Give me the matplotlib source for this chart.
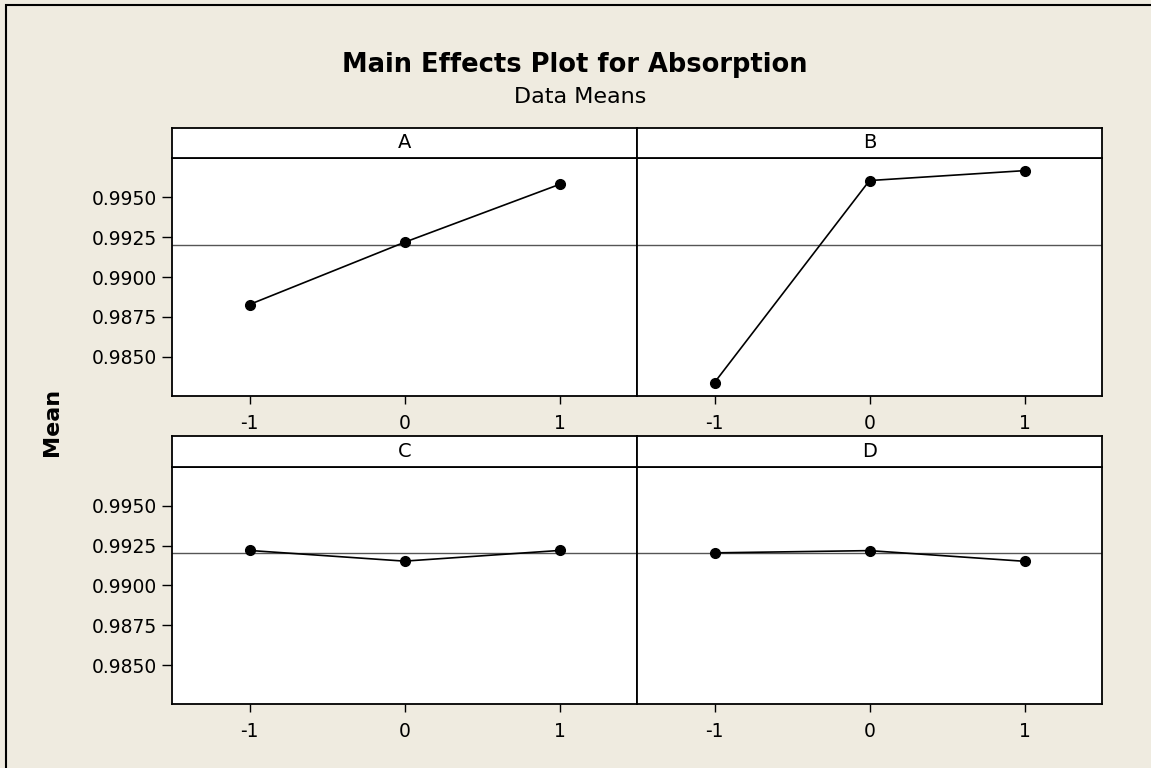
import matplotlib
matplotlib.use('Agg')
import matplotlib.pyplot as plt
from matplotlib.patches import Rectangle

# factor levels and the mean response at each level
levels = [-1, 0, 1]
factors = ['A', 'B', 'C', 'D']
means_a = [0.98828, 0.99217, 0.99579]
means_b = [0.98340, 0.99603, 0.99665]
means_c = [0.99220, 0.99153, 0.99220]
means_d = [0.99205, 0.99219, 0.99152]
grand_mean = 0.99203
yticks = [0.9850, 0.9875, 0.9900, 0.9925, 0.9950]
ytick_labels = ['0.9850', '0.9875', '0.9900', '0.9925', '0.9950']

W, H = 1151, 768
BG = '#EFEBE0'

plt.rcParams['font.family'] = 'DejaVu Sans'

fig = plt.figure(figsize=(W / 100, H / 100), dpi=100, facecolor=BG)


def px_axes(left, top, right, bottom):
	"""axes placed by pixel edges (origin top-left)"""
	return fig.add_axes([left / W, 1 - bottom / H, (right - left) / W, (bottom - top) / H])


def strip(left, top, right, bottom, label):
	ax = px_axes(left, top, right, bottom)
	ax.set_facecolor('white')
	ax.set_xticks([])
	ax.set_yticks([])
	for s in ax.spines.values():
		s.set_linewidth(1.3)
	ax.text(0.5, 0.5, label, ha='center', va='center', fontsize=14, transform=ax.transAxes)
	return ax


def panel(left, top, right, bottom, values, show_y):
	ax = px_axes(left, top, right, bottom)
	ax.set_facecolor('white')
	ax.axhline(grand_mean, color='#555555', linewidth=1.0, zorder=1)
	ax.plot(levels, values, color='black', linewidth=1.2, marker='o', markersize=7, zorder=3)
	ax.set_xlim(-1.5, 1.5)
	ax.set_ylim(0.98256, 0.99744)
	ax.set_xticks(levels)
	ax.set_xticklabels([str(v) for v in levels])
	ax.tick_params(axis='x', length=6, width=1, pad=7, labelsize=13.5)
	if show_y:
		ax.set_yticks(yticks)
		ax.set_yticklabels(ytick_labels)
		ax.tick_params(axis='y', length=7, width=1, pad=4, labelsize=13.5)
	else:
		ax.set_yticks([])
	for s in ax.spines.values():
		s.set_linewidth(1.3)
	return ax


cols = [(172, 637), (637, 1102)]
rows = [(128, 158, 396), (436, 467, 704)]
data = [means_a, means_b, means_c, means_d]

k = 0
for r, (st, pt, pb) in enumerate(rows):
	for c, (l, rt) in enumerate(cols):
		panel(l, pt, rt, pb, data[k], c == 0)
		strip(l, st, rt, pt, factors[k])
		k += 1

fig.text(575 / W, 1 - 71.7 / H, 'Main Effects Plot for Absorption', ha='center', va='baseline',
		 fontsize=18.5, fontweight='bold')
fig.text(580 / W, 1 - 102.7 / H, 'Data Means', ha='center', va='baseline', fontsize=16)
fig.text(52 / W, 1 - 422 / H, 'Mean', ha='center', va='center', rotation=90,
		 fontsize=16, fontweight='bold')

# outer frame, open to the right and bottom
fig.add_artist(Rectangle((5.5 / W, -0.1), 1.2, 1.1 - 5 / H, transform=fig.transFigure,
						 fill=False, edgecolor='black', linewidth=1.5))

fig.savefig('out.png', dpi=100, facecolor=BG)
